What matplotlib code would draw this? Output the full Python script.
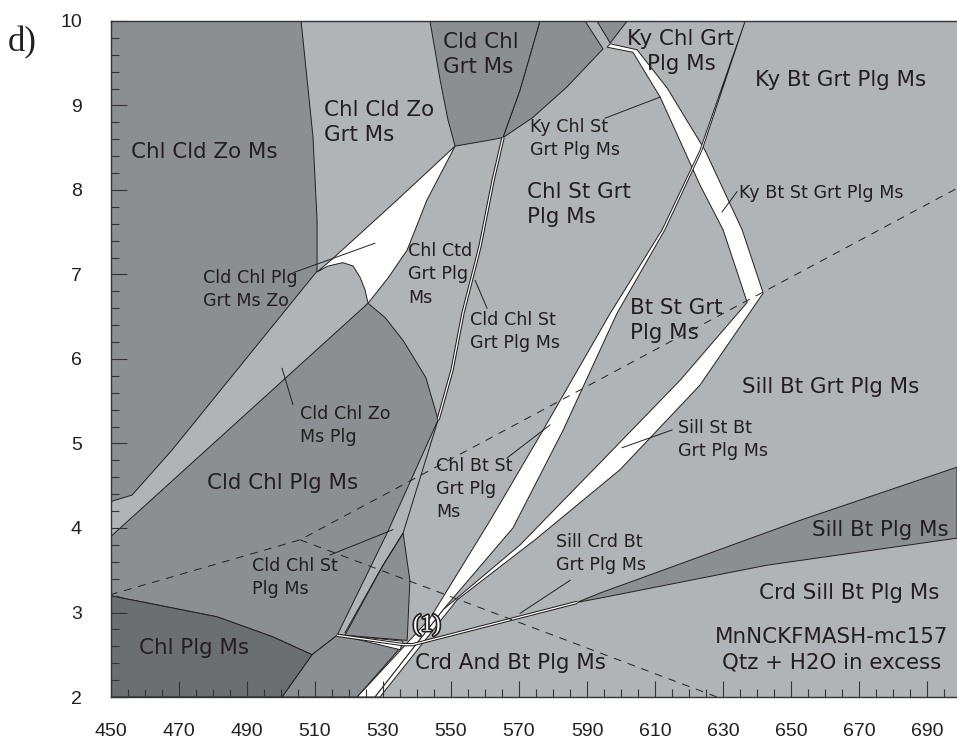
import matplotlib
matplotlib.use("Agg")
import matplotlib.pyplot as plt
import matplotlib.patheffects as pe
from matplotlib.ticker import MultipleLocator

# colours
LIGHT = '#b1b4b7'
MED = '#8c8f92'
DARK = '#6c6f72'
INK = '#231f20'

# ---- field outlines, T (deg C) and P (kbar) ----
chl_cld_zo_T = [449.7, 505.9, 509.4, 510.6, 510.6, 467.9, 456.2, 449.7]
chl_cld_zo_P = [10.0, 10.0, 8.63, 7.64, 7.04, 4.92, 4.39, 4.31]

cld_chl_plg_T = [525.6, 449.7, 449.7, 481.1, 497.7, 509.1, 516.5, 531.2, 546.2, 542.6, 535.9, 530.6, 525.6]
cld_chl_plg_P = [6.66, 3.89, 3.20, 2.95, 2.71, 2.50, 2.73, 3.94, 5.28, 5.78, 6.22, 6.49, 6.66]

wedge_zo_T = [551.2, 534.1, 515.0, 510.6, 513.8, 518.2, 521.2, 523.2, 524.7, 525.6, 531.5, 537.1, 542.9, 551.2]
wedge_zo_P = [8.52, 7.88, 7.18, 7.03, 7.10, 7.14, 7.10, 6.97, 6.82, 6.66, 6.96, 7.29, 7.88, 8.52]

cld_chl_grt_T = [543.8, 546.8, 549.1, 551.2, 558.5, 565.3, 570.3, 576.2]
cld_chl_grt_P = [10.0, 9.30, 8.83, 8.52, 8.57, 8.62, 9.18, 10.0]

top_mid_T = [576.2, 589.4, 594.7, 584.1, 574.1, 565.3, 570.3]
top_mid_P = [10.0, 10.0, 9.67, 9.22, 8.86, 8.62, 9.18]

top_tri_T = [592.9, 601.8, 596.8]
top_tri_P = [10.0, 10.0, 9.74]

low_tri_T = [535.9, 537.9, 537.1, 518.8, 529.7, 535.9]
low_tri_P = [3.94, 3.38, 2.67, 2.73, 3.54, 3.94]

low_field_T = [500.3, 509.1, 516.5, 535.9, 522.4]
low_field_P = [2.0, 2.50, 2.73, 2.62, 2.0]

chl_plg_T = [449.7, 481.1, 497.7, 509.1, 500.3, 449.7]
chl_plg_P = [3.20, 2.95, 2.71, 2.50, 2.0, 2.0]

sill_bt_plg_T = [587.1, 593.8, 652.6, 698.8, 698.8, 642.9, 593.8]
sill_bt_plg_P = [3.12, 3.23, 4.09, 4.72, 3.88, 3.56, 3.17]

# narrow (white) fields
band1_T = [522.4, 543.8, 561.5, 577.1, 596.8, 612.1, 623.2, 636.5,
           623.8, 612.9, 598.8, 583.0, 568.2, 547.6, 527.6]
band1_P = [2.0, 2.93, 4.09, 5.16, 6.54, 7.53, 8.47, 10.0,
           8.47, 7.53, 6.54, 5.16, 4.00, 3.03, 2.0]

band2_T = [547.6, 570.3, 593.8, 617.4, 637.1, 630.0, 623.2, 611.5, 603.5, 595.9,
           596.8, 604.7, 613.5, 624.7, 635.6, 641.8, 623.2, 599.7, 574.7, 551.8,
           529.1, 527.6]
band2_P = [3.03, 3.80, 4.77, 5.75, 6.67, 7.53, 8.06, 9.10, 9.63, 9.69,
           9.73, 9.66, 9.21, 8.47, 7.53, 6.78, 5.69, 4.69, 3.86, 3.15,
           2.0, 2.0]

sliver_T = [516.5, 535.9, 535.0]
sliver_P = [2.74, 2.66, 2.56]

# thin (double-line) fields
cld_st_T = [565.3, 562.4, 558.5, 553.5, 550.3, 546.2]
cld_st_P = [8.62, 8.12, 7.33, 6.54, 5.87, 5.28]
crd_T = [516.5, 535.9, 538.8, 587.1]
crd_P = [2.73, 2.62, 2.62, 3.12]
st_edge_T = [546.2, 535.9, 529.7, 518.8]
st_edge_P = [5.28, 3.94, 3.54, 2.76]

# Al2SiO5 reactions (dashed)
ky_sill_T = [449.7, 505.6, 698.8]
ky_sill_P = [3.21, 3.86, 8.02]
and_sill_T = [505.6, 628.2]
and_sill_P = [3.86, 2.0]

# label leaders
leaders = [
    ([595.3, 611.5], [8.85, 9.10]),
    ([634.1, 629.7], [7.98, 7.74]),
    ([615.0, 600.3], [5.16, 4.95]),
    ([585.0, 570.3], [3.38, 2.99]),
    ([566.5, 579.1], [4.83, 5.22]),
    ([560.6, 557.1], [6.60, 6.93]),
    ([500.3, 503.5], [5.89, 5.46]),
    ([503.5, 527.6], [7.02, 7.37]),
    ([514.4, 532.9], [3.68, 3.98]),
]

# labels: text, T, P, align
big_labels = [
    ('Chl Cld Zo Ms', 477.4, 8.45, 'center'),
    ('Chl Cld Zo\nGrt Ms', 512.6, 8.80, 'left'),
    ('Cld Chl\nGrt Ms', 547.7, 9.60, 'left'),
    ('Chl St Grt\nPlg Ms', 572.3, 7.83, 'left'),
    ('Ky Chl Grt\nPlg Ms', 617.6, 9.64, 'center'),
    ('Ky Bt Grt Plg Ms', 664.7, 9.30, 'center'),
    ('Bt St Grt\nPlg Ms', 602.6, 6.46, 'left'),
    ('Sill Bt Grt Plg Ms', 661.5, 5.67, 'center'),
    ('Sill Bt Plg Ms', 676.3, 3.98, 'center'),
    ('Crd Sill Bt Plg Ms', 667.0, 3.23, 'center'),
    ('MnNCKFMASH-mc157\nQtz + H2O in excess', 661.8, 2.56, 'center'),
    ('Crd And Bt Plg Ms', 567.4, 2.40, 'center'),
    ('Chl Plg Ms', 474.4, 2.58, 'center'),
    ('Cld Chl Plg Ms', 500.6, 4.53, 'center'),
]
small_labels = [
    ('Ky Chl St\nGrt Plg Ms', 573.2, 8.61),
    ('Ky Bt St Grt Plg Ms', 634.7, 7.96),
    ('Sill St Bt\nGrt Plg Ms', 616.8, 5.05),
    ('Cld Chl St\nPlg Ms', 491.4, 3.41),
    ('Cld Chl Zo\nMs Plg', 505.6, 5.21),
    ('Cld Chl Plg\nGrt Ms Zo', 477.1, 6.82),
    ('Chl Ctd\nGrt Plg\nMs', 537.4, 7.00),
    ('Cld Chl St\nGrt Plg Ms', 555.6, 6.33),
    ('Chl Bt St\nGrt Plg\nMs', 545.6, 4.46),
    ('Sill Crd Bt\nGrt Plg Ms', 580.9, 3.70),
]

fig = plt.figure(figsize=(9.57, 7.43), dpi=100)
ax = fig.add_axes([111 / 957, 1 - 697 / 743, 846 / 957, 676 / 743])
ax.set_facecolor(LIGHT)
ax.set_xlim(450, 698.8)
ax.set_ylim(2, 10)

lw = 0.7
fields = [
    (chl_cld_zo_T, chl_cld_zo_P, MED),
    (cld_chl_plg_T, cld_chl_plg_P, MED),
    (cld_chl_grt_T, cld_chl_grt_P, MED),
    (top_mid_T, top_mid_P, MED),
    (top_tri_T, top_tri_P, MED),
    (low_tri_T, low_tri_P, MED),
    (low_field_T, low_field_P, MED),
    (chl_plg_T, chl_plg_P, DARK),
    (sill_bt_plg_T, sill_bt_plg_P, MED),
    (wedge_zo_T, wedge_zo_P, 'white'),
    (band2_T, band2_P, 'white'),
    (band1_T, band1_P, 'white'),
    (sliver_T, sliver_P, 'white'),
]
for T, P, c in fields:
    ax.fill(T, P, facecolor=c, edgecolor=INK, linewidth=lw)

for T, P in [(cld_st_T, cld_st_P), (crd_T, crd_P)]:
    ax.plot(T, P, color=INK, lw=2.4, solid_capstyle='butt')
    ax.plot(T, P, color='white', lw=0.9, solid_capstyle='butt')
ax.plot(st_edge_T, st_edge_P, color=INK, lw=lw)

for T, P in [(ky_sill_T, ky_sill_P), (and_sill_T, and_sill_P)]:
    ax.plot(T, P, color=INK, lw=0.7, dashes=(8, 7))

for T, P in leaders:
    ax.plot(T, P, color=INK, lw=0.7)

for s, x, y, ha in big_labels:
    ax.text(x, y, s, ha=ha, va='center', fontsize=15.4, color=INK,
            family='DejaVu Sans', linespacing=1.3, multialignment=ha)
for s, x, y in small_labels:
    ax.text(x, y, s, ha='left', va='center', fontsize=12.6, color=INK,
            family='DejaVu Sans', linespacing=1.36)

ax.text(542.9, 2.85, '(1)', ha='center', va='center', fontsize=17,
        family='Liberation Serif', color='white',
        path_effects=[pe.withStroke(linewidth=2.4, foreground=INK)])

# axes styling
ax.set_xticks(range(450, 691, 20))
ax.set_yticks(range(2, 11))
ax.xaxis.set_minor_locator(MultipleLocator(5))
ax.yaxis.set_minor_locator(MultipleLocator(0.2))
ax.tick_params(which='both', direction='in', color='#333333', width=0.8,
               top=False, right=False)
ax.tick_params(which='major', length=11.5)
ax.tick_params(which='minor', length=6)
ax.tick_params(axis='y', which='major', pad=21)
ax.tick_params(axis='x', which='major', pad=19)
for lab in ax.get_xticklabels() + ax.get_yticklabels():
    lab.set_fontfamily('Liberation Sans')
    lab.set_fontsize(14)
    lab.set_color(INK)
for side in ['left', 'bottom', 'top']:
    ax.spines[side].set_color('#333333')
    ax.spines[side].set_linewidth(1.0)
ax.spines['right'].set_visible(False)

fig.text(8 / 957, 1 - 51 / 743, 'd)', fontsize=25, family='Liberation Serif',
         color=INK, ha='left', va='baseline')

fig.savefig('out.png', dpi=100)
